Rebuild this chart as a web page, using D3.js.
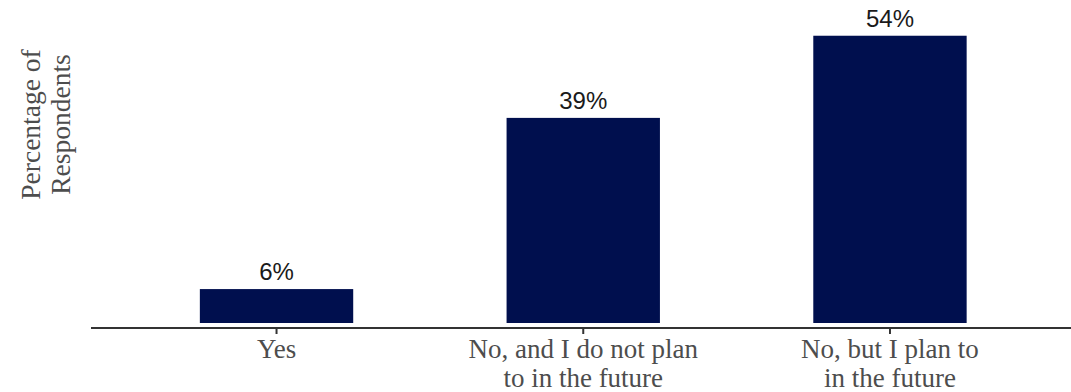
<!DOCTYPE html>
<html>
<head>
<meta charset="utf-8">
<script src="https://cdn.jsdelivr.net/npm/d3@7"></script>
<style>
  html, body { margin: 0; padding: 0; background: #fff; }
  svg { display: block; }
</style>
</head>
<body>
<svg id="chart" width="1071" height="392"></svg>
<script>
// ---- data ----
const categories = ["Yes", "No, and I do not plan to in the future", "No, but I plan to in the future"];
const tickLabels = [["Yes"], ["No, and I do not plan", "to in the future"], ["No, but I plan to", "in the future"]];
const values = [6.4, 38.7, 54.2];
const valueLabels = ["6%", "39%", "54%"];
const yTitle = ["Percentage of", "Respondents"];

// ---- layout ----
const svg = d3.select("#chart");
const plotLeft = 92.5, plotRight = 1074, plotBottom = 323, plotTop = 5, axisY = 328;

const x = d3.scaleBand()
  .domain(categories)
  .range([plotLeft, plotRight])
  .paddingInner(0.5)
  .paddingOuter(0.35);

const y = d3.scaleLinear()
  .domain([0, 60])
  .range([plotBottom, plotTop]);

const data = categories.map((c, i) => ({ c, v: values[i], label: valueLabels[i], lines: tickLabels[i] }));

// bars
svg.append("g").selectAll("rect")
  .data(data)
  .join("rect")
  .attr("x", d => x(d.c))
  .attr("width", x.bandwidth())
  .attr("y", d => y(d.v))
  .attr("height", d => y(0) - y(d.v))
  .attr("fill", "#000f4e");

// value labels
svg.append("g").selectAll("text")
  .data(data)
  .join("text")
  .attr("x", d => x(d.c) + x.bandwidth() / 2)
  .attr("y", d => y(d.v) - 9)
  .attr("text-anchor", "middle")
  .attr("font-family", "'Liberation Sans', Arial, sans-serif")
  .attr("font-size", 24)
  .attr("fill", "#1a1a1a")
  .text(d => d.label);

// x axis
const xAxis = d3.axisBottom(x).tickSizeInner(6).tickSizeOuter(0).tickFormat("");
const gx = svg.append("g")
  .attr("transform", `translate(0,${axisY})`)
  .call(xAxis);
gx.select(".domain").attr("stroke", "#333").attr("stroke-width", 2)
  .attr("d", `M91,0H1071`);
gx.selectAll(".tick line").attr("stroke", "#333").attr("stroke-width", 2);

// category labels (wrapped)
const catG = svg.append("g");
data.forEach(d => {
  const cx = x(d.c) + x.bandwidth() / 2;
  const t = catG.append("text")
    .attr("x", cx)
    .attr("y", 358)
    .attr("text-anchor", "middle")
    .attr("font-family", "'Liberation Serif', 'Times New Roman', serif")
    .attr("font-size", 27)
    .attr("fill", "#4d4d4d");
  d.lines.forEach((ln, i) => {
    t.append("tspan")
      .attr("x", cx)
      .attr("y", 358 + i * 29)
      .text(ln);
  });
});

// y title
const yt = svg.append("text")
  .attr("transform", "translate(0,124.5) rotate(-90)")
  .attr("text-anchor", "middle")
  .attr("font-family", "'Liberation Serif', 'Times New Roman', serif")
  .attr("font-size", 27.5)
  .attr("fill", "#4d4d4d");
yTitle.forEach((ln, i) => {
  yt.append("tspan")
    .attr("x", 0)
    .attr("y", 40 + i * 30)
    .text(ln);
});
</script>
</body>
</html>
